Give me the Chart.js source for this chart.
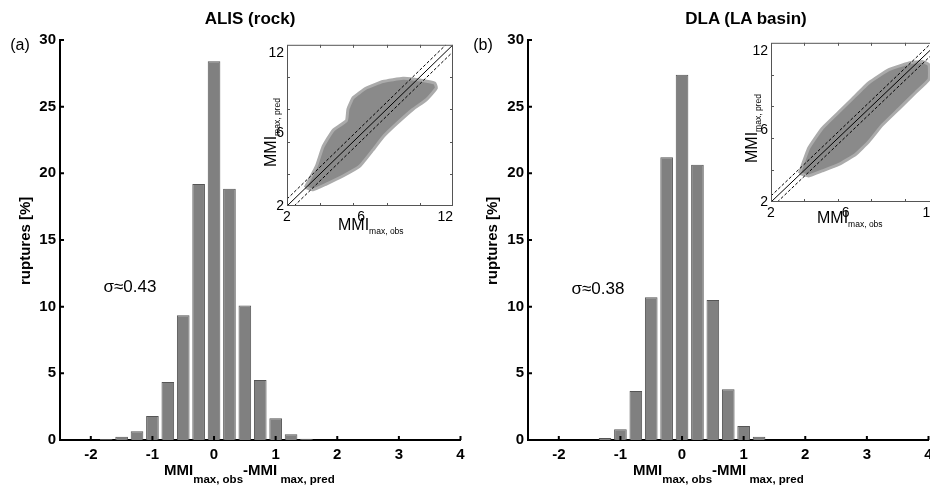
<!DOCTYPE html>
<html><head><meta charset="utf-8">
<script src="https://cdn.jsdelivr.net/npm/chart.js@4"></script>
<style>
html,body{margin:0;padding:0;background:#fff;width:930px;height:487px;overflow:hidden;position:relative;font-family:"Liberation Sans",Arial,Helvetica,sans-serif;color:#000;}
canvas{position:absolute;}
.t{position:absolute;white-space:nowrap;line-height:1;}
.c{transform:translate(-50%,-50%);}
.rot{transform-origin:0 0;transform:rotate(-90deg);}
.b{font-weight:bold;}
.sub{position:relative;}
</style></head><body>
<canvas id="histA" width="475" height="487" style="left:0;top:0"></canvas>
<canvas id="histB" width="475" height="487" style="left:468px;top:0"></canvas>
<canvas id="insA" width="250" height="215" style="left:245px;top:25px"></canvas>
<canvas id="insB" width="250" height="215" style="left:729px;top:23px"></canvas>

<div class="t c b" style="left:250px;top:18px;font-size:17px">ALIS (rock)</div>
<div class="t c b" style="left:746px;top:18px;font-size:17px">DLA (LA basin)</div>
<div class="t c" style="left:20px;top:45px;font-size:16px">(a)</div>
<div class="t c" style="left:483px;top:45px;font-size:16px">(b)</div>
<div class="t c" id="sigA" style="left:130px;top:286px;font-size:17px"></div>
<div class="t c" id="sigB" style="left:598px;top:288px;font-size:17px"></div>
<div class="t rot b" style="left:17px;top:285px;font-size:15px">ruptures [%]</div>
<div class="t rot b" style="left:484px;top:285px;font-size:15px">ruptures [%]</div>
<div class="t b" style="left:164px;top:462px;font-size:15px">MMI<span class="sub" style="font-size:11.5px;top:8px">max, obs</span>-MMI<span class="sub" style="font-size:11.5px;top:8px">&nbsp;max, pred</span></div>
<div class="t b" style="left:633px;top:462px;font-size:15px">MMI<span class="sub" style="font-size:11.5px;top:8px">max, obs</span>-MMI<span class="sub" style="font-size:11.5px;top:8px">&nbsp;max, pred</span></div>
<div class="t" style="left:338px;top:217px;font-size:16px">MMI<span class="sub" style="font-size:8.5px;top:4px">max, obs</span></div>
<div class="t" style="left:817px;top:210px;font-size:16px">MMI<span class="sub" style="font-size:8.5px;top:4px">max, obs</span></div>
<div class="t rot" style="left:263px;top:167px;font-size:16px">MMI<span class="sub" style="font-size:8.5px;top:4px">max, pred</span></div>
<div class="t rot" style="left:744px;top:163px;font-size:16px">MMI<span class="sub" style="font-size:8.5px;top:4px">max, pred</span></div>

<script>
// ---------- data ----------
const binCenters = [-1.75, -1.5, -1.25, -1, -0.75, -0.5, -0.25, 0, 0.25, 0.5, 0.75, 1, 1.25, 1.5];
const alisPct    = [0.08, 0.25, 0.65, 1.8, 4.35, 9.35, 19.2, 28.4, 18.85, 10.08, 4.5, 1.63, 0.43, 0.1];
const dlaPct     = [0, 0, 0.15, 0.8, 3.68, 10.7, 21.2, 27.4, 20.65, 10.5, 3.8, 1.05, 0.25, 0];
const histYTicks = [0, 5, 10, 15, 20, 25, 30];
const histXTicks = [-2, -1, 0, 1, 2, 3, 4];
const insetTicks = [2, 4, 6, 8, 10, 12];
const insetLabels = ['2', '', '6', '', '', '12'];
const sigmaAlis = 0.43;
const sigmaDla = 0.38;
// outline of the dense scatter cloud (MMI obs, MMI pred)
const alisCloudX = [3.10, 3.77, 4.17, 4.77, 5.58, 5.67, 5.98, 6.78, 7.78, 8.99, 9.99, 10.9, 11.0, 10.4, 9.59, 8.59, 7.78, 7.18, 6.38, 5.37, 4.37, 3.57, 3.10];
const alisCloudY = [3.15, 4.47, 5.68, 6.69, 7.30, 8.0, 8.71, 9.32, 9.72, 9.92, 9.82, 9.62, 9.32, 8.6, 8.0, 7.09, 6.28, 5.48, 4.47, 3.86, 3.36, 3.0, 3.15];
const dlaCloudX = [3.70, 4.26, 5.06, 6.06, 6.86, 7.86, 9.06, 10.26, 11.06, 11.46, 11.46, 10.66, 9.66, 8.66, 7.86, 7.06, 6.06, 5.06, 4.26, 3.70];
const dlaCloudY = [3.80, 5.39, 6.62, 7.65, 8.47, 9.49, 10.31, 10.73, 10.83, 10.62, 9.70, 8.88, 7.85, 6.83, 5.80, 4.98, 4.36, 3.95, 3.64, 3.80];
// ------------------------------------------------

document.getElementById('sigA').textContent = 'σ≈' + sigmaAlis.toFixed(2);
document.getElementById('sigB').textContent = 'σ≈' + sigmaDla.toFixed(2);

Chart.defaults.color = '#000';
Chart.defaults.font.family = '"Liberation Sans", Arial, Helvetica, sans-serif';

const histTickMarks = {
  id: 'histTickMarks',
  afterDraw(chart) {
    const {ctx, chartArea: a, scales: {x, y}} = chart;
    ctx.save();
    ctx.strokeStyle = '#000'; ctx.lineWidth = 2;
    ctx.beginPath();
    histYTicks.forEach(v => { const py = y.getPixelForValue(v); ctx.moveTo(a.left, py); ctx.lineTo(a.left + 4, py); });
    histXTicks.forEach(v => { const px = x.getPixelForValue(v); ctx.moveTo(px, a.bottom); ctx.lineTo(px, a.bottom - 4); });
    ctx.stroke();
    ctx.restore();
  }
};

function makeHist(id, values) {
  return new Chart(document.getElementById(id), {
    type: 'bar',
    data: { datasets: [{
      data: binCenters.map((c, i) => ({x: c, y: values[i]})),
      backgroundColor: '#808080', borderColor: '#555', borderWidth: 1,
      barPercentage: 0.82, categoryPercentage: 1
    }]},
    options: {
      responsive: false, animation: false, events: [],
      layout: { padding: { top: 40, right: 14.5, left: 0, bottom: 0 } },
      plugins: { legend: {display: false}, tooltip: {enabled: false} },
      scales: {
        x: { type: 'linear', min: -2.5, max: 4, offset: false,
             afterBuildTicks: s => { s.ticks = histXTicks.map(v => ({value: v})); },
             afterFit: s => { s.height = 47; },
             grid: {display: false, drawTicks: false},
             border: {display: true, color: '#000', width: 2},
             ticks: {font: {size: 15, weight: 'bold'}, padding: 6, maxRotation: 0, autoSkip: false} },
        y: { min: 0, max: 30,
             afterBuildTicks: s => { s.ticks = histYTicks.map(v => ({value: v})); },
             afterFit: s => { s.width = 60; },
             grid: {display: false, drawTicks: false},
             border: {display: true, color: '#000', width: 2},
             ticks: {font: {size: 15, weight: 'bold'}, padding: 4} }
      }
    },
    plugins: [histTickMarks]
  });
}

const insetFrame = {
  id: 'insetFrame',
  afterDatasetsDraw(chart) {
    const {ctx, chartArea: a, scales: {x, y}} = chart;
    ctx.save();
    ctx.strokeStyle = '#555'; ctx.lineWidth = 1;
    ctx.strokeRect(a.left + 0.5, a.top + 0.5, a.width - 1, a.height - 1);
    ctx.beginPath();
    insetTicks.slice(1, -1).forEach(v => {
      const px = Math.round(x.getPixelForValue(v)) + 0.5;
      ctx.moveTo(px, a.top); ctx.lineTo(px, a.top + 3);
      ctx.moveTo(px, a.bottom); ctx.lineTo(px, a.bottom - 3);
      const py = Math.round(y.getPixelForValue(v)) + 0.5;
      ctx.moveTo(a.left, py); ctx.lineTo(a.left + 3, py);
      ctx.moveTo(a.right, py); ctx.lineTo(a.right - 3, py);
    });
    ctx.stroke();
    ctx.restore();
  }
};

// label placement mimics the original figure (labels nudged off their ticks)
function xInsetLabel(i) {
  const s = insetLabels[i];
  if (s === '6') return '\u2007\u2007' + s;
  if (s === '12') return s + '\u2007\u2007';
  return s;
}
function yInsetLabel(i) {
  const s = insetLabels[i];
  if (s === '12') return ['', s];
  if (s === '6') return [s, ''];
  return s;
}

function makeInset(id, cx, cy, sigma, rightPad, xHeight) {
  const cloud = cx.map((v, i) => ({x: v, y: cy[i]}));
  return new Chart(document.getElementById(id), {
    type: 'scatter',
    data: { datasets: [
      { data: [{x: 2, y: 2}, {x: 12, y: 12}], showLine: true, borderColor: '#000', borderWidth: 1, pointRadius: 0 },
      { data: [{x: 2, y: 2 + sigma}, {x: 12 - sigma, y: 12}], showLine: true, borderColor: '#000', borderWidth: 1, borderDash: [3, 2], pointRadius: 0 },
      { data: [{x: 2 + sigma, y: 2}, {x: 12, y: 12 - sigma}], showLine: true, borderColor: '#000', borderWidth: 1, borderDash: [3, 2], pointRadius: 0 },
      { data: cloud, showLine: true, fill: 'shape', backgroundColor: '#8a8a8a', borderColor: '#ababab', borderWidth: 3, pointRadius: 0, tension: 0.12 }
    ]},
    options: {
      responsive: false, animation: false, events: [],
      layout: { padding: { top: 16, right: rightPad, left: 0, bottom: 0 } },
      plugins: { legend: {display: false}, tooltip: {enabled: false} },
      scales: {
        x: { type: 'linear', min: 2, max: 12,
             afterBuildTicks: s => { s.ticks = insetTicks.map(v => ({value: v})); },
             afterFit: s => { s.height = xHeight; },
             grid: {display: false, drawTicks: false}, border: {display: false},
             ticks: {font: {size: 14}, padding: 3, maxRotation: 0, autoSkip: false,
                     callback: (v, i) => xInsetLabel(i)} },
        y: { type: 'linear', min: 2, max: 12,
             afterBuildTicks: s => { s.ticks = insetTicks.map(v => ({value: v})); },
             afterFit: s => { s.width = 42; },
             grid: {display: false, drawTicks: false}, border: {display: false},
             ticks: {font: {size: 14}, padding: 3, autoSkip: false,
                     callback: (v, i) => yInsetLabel(i)} }
      }
    },
    plugins: [insetFrame]
  });
}

makeHist('histA', alisPct);
makeHist('histB', dlaPct);
makeInset('insA', alisCloudX, alisCloudY, sigmaAlis, 42, 34);
makeInset('insB', dlaCloudX, dlaCloudY, sigmaDla, 41, 36);
</script>
</body></html>
